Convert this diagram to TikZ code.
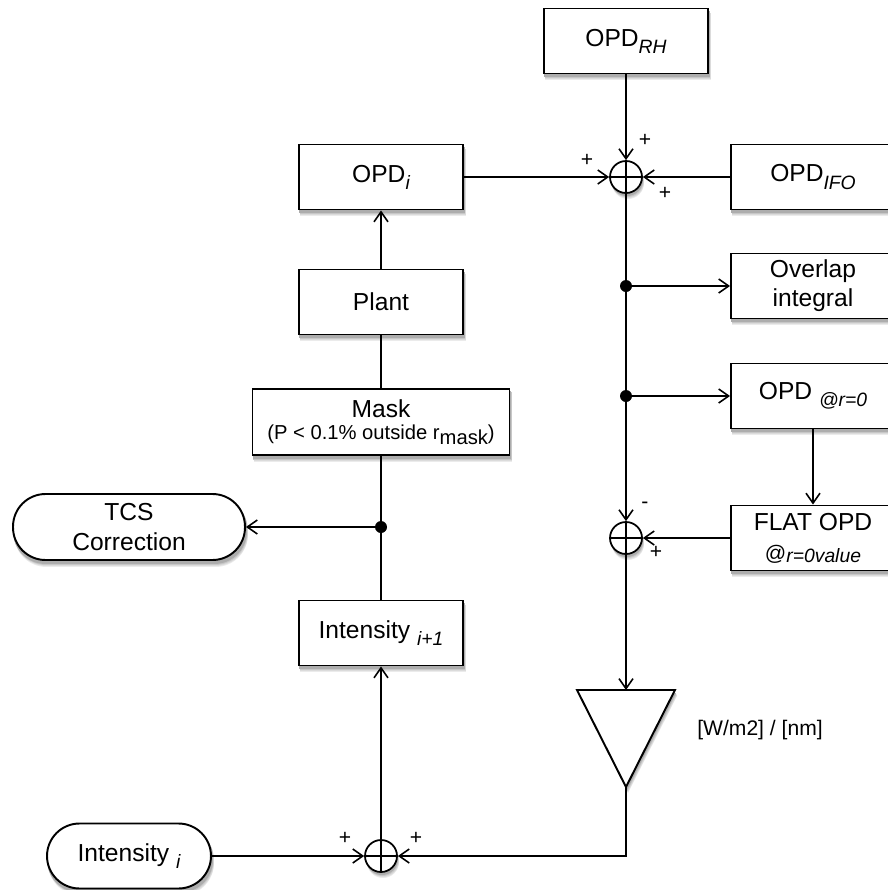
\documentclass[tikz,border=0pt]{standalone}
\usepackage{fontspec}
\setmainfont{Liberation Sans}
\usetikzlibrary{arrows.meta, backgrounds, calc}

\newcommand{\lowidx}[1]{\raisebox{-0.55ex}{\fontsize{11}{11}\selectfont\itshape #1}}

\begin{document}
\begin{tikzpicture}[
    x=0.02cm, y=-0.02cm,
    font=\fontsize{14}{17}\selectfont,
    block/.style={draw, fill=white, line width=1.1pt, minimum width=3.28cm,
                  minimum height=1.3cm, align=center, inner sep=1pt},
    terminal/.style={block, rounded corners=0.65cm},
    sumjunc/.style={draw, fill=white, circle, line width=1pt, minimum size=0.64cm,
                    inner sep=0pt,
                    path picture={\draw[line width=1pt]
                      (path picture bounding box.north) -- (path picture bounding box.south)
                      (path picture bounding box.west) -- (path picture bounding box.east);}},
    junction/.style={circle, fill, inner sep=0pt, minimum size=0.24cm},
    sign/.style={font=\fontsize{12}{12}\selectfont, inner sep=0pt},
    shadowfill/.style={fill=black!#1},
    >={Straight Barb[length=2mm, width=2.8mm]}
  ]
  % right column
  \node[block] (opdrh) at (626,41) {OPD\lowidx{RH}};
  \node[sumjunc] (sumtop) at (626,177) {};
  \node[block] (opdifo) at (813,177) {OPD\lowidx{IFO}};
  \node[junction] (dotA) at (626,286) {};
  \node[block, font=\fontsize{14}{16.5}\selectfont] (overlap) at (813,286) {Overlap\\integral};
  \node[junction] (dotB) at (626,396) {};
  \node[block] (opdzero) at (813,396) {OPD \lowidx{@r=0}};
  \node[sumjunc] (sumflat) at (626,538) {};
  \node[block] (flat) at (813,538)
    {FLAT OPD\\{\fontsize{12}{12}\selectfont @}\raisebox{-0.2ex}{\fontsize{11}{11}\selectfont\itshape r=0value}};
  \coordinate (ampleft) at (577,690);
  \coordinate (ampright) at (675,690);
  \coordinate (amptop) at (626,690);
  \coordinate (ampbot) at (626,787);
  \draw[fill=white, line width=1.1pt] (ampleft) -- (ampright) -- (ampbot) -- cycle;
  \node[font=\fontsize{12}{12}\selectfont] (gain) at (760,730) {[W/m2] / [nm]};

  % left column
  \node[block] (opdi) at (381,177) {OPD\lowidx{i}};
  \node[block] (plant) at (381,302) {Plant};
  \node[block, minimum width=5.14cm, minimum height=1.32cm, font=\fontsize{14}{12.5}\selectfont] (mask) at (381,422)
    {Mask\\{\fontsize{11.5}{12.5}\selectfont (P < 0.1\% outside r\raisebox{-0.5ex}{mask})}};
  \node[junction] (dotC) at (381,527) {};
  \node[terminal, minimum width=4.64cm, minimum height=1.32cm] (tcs) at (129,527) {TCS\\Correction};
  \node[block] (intnext) at (381,633) {Intensity \lowidx{i+1}};
  \node[sumjunc] (sumbot) at (381,856) {};
  \node[terminal] (intcur) at (129,856) {Intensity \lowidx{i}};

  % signs
  \node[sign] (plusA) at (645,140) {+};
  \node[sign] (plusB) at (587,160) {+};
  \node[sign] (plusC) at (665,193) {+};
  \node[sign] (minusD) at (645,505) {-};
  \node[sign] (plusE) at (656,552) {+};
  \node[sign] (plusF) at (345,838) {+};
  \node[sign] (plusG) at (416,838) {+};

  % shadows
  \begin{scope}[on background layer]
    \foreach \dx/\dy/\gr in {2/6/8, 2/5/14, 1.5/4/22, 1/3/32} {
      \foreach \n in {opdrh,opdifo,overlap,opdzero,flat,opdi,plant,mask,intnext}
        \fill[shadowfill=\gr] ($(\n.south west)+(\dx,\dy)$) rectangle ($(\n.north east)+(\dx,\dy)$);
      \foreach \n in {tcs,intcur}
        \fill[shadowfill=\gr, rounded corners=0.65cm]
          ($(\n.south west)+(\dx,\dy)$) rectangle ($(\n.north east)+(\dx,\dy)$);
      \foreach \n in {sumtop,sumflat,sumbot}
        \fill[shadowfill=\gr] ($(\n.center)+(\dx,\dy)$) circle (0.32cm);
      \fill[shadowfill=\gr] ($(ampleft)+(\dx,\dy)$) -- ($(ampright)+(\dx,\dy)$)
        -- ($(ampbot)+(\dx,\dy)$) -- cycle;
    }
  \end{scope}

  % connectors
  \begin{scope}[line width=0.9pt]
  \draw[->] (opdrh) -- (sumtop);
  \draw[->] (opdi) -- (sumtop);
  \draw[->] (opdifo) -- (sumtop);
  \draw (sumtop) -- (dotA);
  \draw (dotA) -- (dotB);
  \draw[->] (dotB) -- (sumflat);
  \draw[->] (dotA) -- (overlap);
  \draw[->] (dotB) -- (opdzero);
  \draw[->] (opdzero) -- (flat);
  \draw[->] (flat) -- (sumflat);
  \draw[->] (sumflat) -- (amptop);
  \draw[->] (ampbot) |- (sumbot);
  \draw[->] (intcur) -- (sumbot);
  \draw[->] (sumbot) -- (intnext);
  \draw (intnext) -- (dotC);
  \draw (dotC) -- (mask);
  \draw[->] (dotC) -- (tcs);
  \draw (mask) -- (plant);
  \draw[->] (plant) -- (opdi);
  \end{scope}

  \pgfresetboundingbox
  \useasboundingbox (0,0) rectangle (888,890);
\end{tikzpicture}
\end{document}
